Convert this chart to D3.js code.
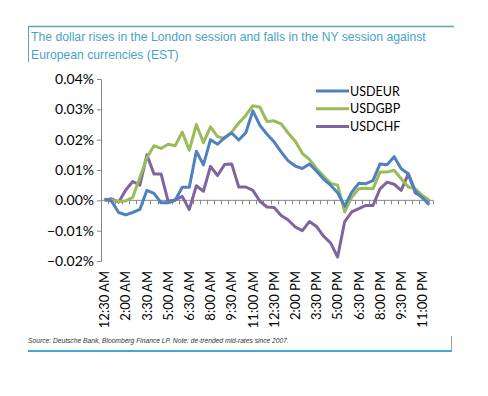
<!DOCTYPE html>
<html>
<head>
<meta charset="utf-8">
<script src="https://cdn.jsdelivr.net/npm/d3@7"></script>
<style>
    html, body { margin: 0; padding: 0; background: #fff; }
    #main { width: 488px; height: 396px; }
</style>
</head>
<body>
<div id="main"></div>
<script>
// half-hour buckets, EST
var categories = ["12:30 AM", "1:00 AM", "1:30 AM", "2:00 AM", "2:30 AM", "3:00 AM", "3:30 AM", "4:00 AM",
    "4:30 AM", "5:00 AM", "5:30 AM", "6:00 AM", "6:30 AM", "7:00 AM", "7:30 AM", "8:00 AM", "8:30 AM",
    "9:00 AM", "9:30 AM", "10:00 AM", "10:30 AM", "11:00 AM", "11:30 AM", "12:00 PM", "12:30 PM",
    "1:00 PM", "1:30 PM", "2:00 PM", "2:30 PM", "3:00 PM", "3:30 PM", "4:00 PM", "4:30 PM", "5:00 PM",
    "5:30 PM", "6:00 PM", "6:30 PM", "7:00 PM", "7:30 PM", "8:00 PM", "8:30 PM", "9:00 PM", "9:30 PM",
    "10:00 PM", "10:30 PM", "11:00 PM", "11:30 PM"];

// values in percent
var usdeur = [0.0005, -0.0003, -0.0040, -0.0048, -0.0040, -0.0030, 0.0033, 0.0023, -0.0008, -0.0008,
    0.0000, 0.0043, 0.0043, 0.0162, 0.0117, 0.0200, 0.0185, 0.0207, 0.0222, 0.0199, 0.0223, 0.0295,
    0.0247, 0.0218, 0.0193, 0.0160, 0.0130, 0.0113, 0.0105, 0.0120, 0.0097, 0.0070, 0.0050, 0.0025,
    -0.0019, 0.0027, 0.0056, 0.0055, 0.0065, 0.0120, 0.0117, 0.0144, 0.0104, 0.0088, 0.0030, 0.0008, -0.0014];
var usdgbp = [0.0000, 0.0000, -0.0004, -0.0002, 0.0010, 0.0075, 0.0140, 0.0180, 0.0171, 0.0185,
    0.0180, 0.0225, 0.0165, 0.0250, 0.0190, 0.0242, 0.0210, 0.0204, 0.0225, 0.0255, 0.0280, 0.0312,
    0.0307, 0.0260, 0.0262, 0.0252, 0.0222, 0.0195, 0.0155, 0.0135, 0.0105, 0.0080, 0.0056, 0.0050,
    -0.0038, 0.0011, 0.0038, 0.0040, 0.0038, 0.0093, 0.0093, 0.0099, 0.0071, 0.0044, 0.0038, 0.0016, 0.0000];
var usdchf = [0.0000, 0.0005, -0.0006, 0.0034, 0.0062, 0.0050, 0.0150, 0.0087, 0.0087, -0.0003,
    0.0001, 0.0013, -0.0030, 0.0048, 0.0030, 0.0112, 0.0082, 0.0118, 0.0120, 0.0044, 0.0044, 0.0033,
    -0.0003, -0.0022, -0.0024, -0.0050, -0.0065, -0.0088, -0.0100, -0.0070, -0.0086, -0.0118, -0.0140, -0.0187,
    -0.0070, -0.0038, -0.0027, -0.0017, -0.0017, 0.0038, 0.0060, 0.0053, 0.0033, 0.0087, 0.0024, 0.0011, -0.0005];

var seriesNames = ["USDEUR", "USDGBP", "USDCHF"];
var xTickLabels = ["12:30 AM", "2:00 AM", "3:30 AM", "5:00 AM", "6:30 AM", "8:00 AM", "9:30 AM", "11:00 AM",
    "12:30 PM", "2:00 PM", "3:30 PM", "5:00 PM", "6:30 PM", "8:00 PM", "9:30 PM", "11:00 PM"];
var yTicks = [-0.02, -0.01, 0.00, 0.01, 0.02, 0.03, 0.04];

var chart = (function () {
    function chart() {
        this.initProperty();
        this.init();
    }

    chart.prototype.initProperty = function () {
        this.width = 488;
        this.height = 396;
        this.svg = d3.select('#main').append('svg')
            .attr('width', this.width).attr('height', this.height);
        this.plot = {left: 101, right: 433, top: 79, bottom: 261};
        this.colors = ["#4f81bd", "#9bbb59", "#8064a2"];
        this.axisColor = "#868686";
        this.font = "Lato, 'Liberation Sans', sans-serif";
        this.xScale = d3.scaleBand().domain(categories).range([this.plot.left, this.plot.right]).padding(0);
        this.yScale = d3.scaleLinear().domain([-0.02, 0.04]).range([this.plot.bottom, this.plot.top]);
    };

    chart.prototype.init = function () {
        this.drawFrame();
        this.drawAxis();
        this.drawLines();
        this.drawLegend();
    };

    chart.prototype.drawFrame = function () {
        var svg = this.svg;
        // title box
        svg.append("line").attr("x1", 28).attr("x2", 454).attr("y1", 26.5).attr("y2", 26.5)
            .attr("stroke", "#5aa5c3").attr("stroke-width", 1.6);
        svg.append("line").attr("x1", 28.5).attr("x2", 28.5).attr("y1", 26).attr("y2", 62)
            .attr("stroke", "#5aa5c3").attr("stroke-width", 1);
        svg.append("text").attr("x", 31).attr("y", 41)
            .attr("font-family", "'Liberation Sans', Arial, sans-serif").attr("font-size", 12.2)
            .attr("fill", "#4aa2c4")
            .selectAll("tspan")
            .data(["The dollar rises in the London session and falls in the NY session against",
                "European currencies (EST)"])
            .enter().append("tspan")
            .attr("x", 31).attr("dy", function (d, i) { return i === 0 ? 0 : 17.5; })
            .text(function (d) { return d; });

        // source box
        svg.append("text").attr("x", 28).attr("y", 343)
            .attr("font-family", "'Liberation Sans', Arial, sans-serif").attr("font-size", 6.7)
            .attr("font-style", "italic").attr("fill", "#333")
            .text("Source: Deutsche Bank, Bloomberg Finance LP. Note: de-trended mid-rates since 2007.");
        svg.append("line").attr("x1", 28).attr("x2", 452).attr("y1", 351).attr("y2", 351)
            .attr("stroke", "#3fa9d6").attr("stroke-width", 2);
        svg.append("line").attr("x1", 451.5).attr("x2", 451.5).attr("y1", 336).attr("y2", 351)
            .attr("stroke", "#a0a0a0").attr("stroke-width", 1);
    };

    chart.prototype.drawAxis = function () {
        const that = this;
        var x = this.xScale, y = this.yScale;

        this.yAxis = d3.axisLeft(y)
            .tickValues(yTicks)
            .tickSize(4)
            .tickPadding(3)
            .tickFormat(function (d) { return d3.format(".2f")(d) + "%"; });

        var gy = this.svg.append("g")
            .attr("transform", "translate(" + this.plot.left + ",0)")
            .call(this.yAxis);
        gy.select(".domain").attr("stroke", this.axisColor);
        gy.selectAll(".tick line").attr("stroke", this.axisColor);
        gy.selectAll(".tick text").attr("font-family", this.font).attr("font-size", 14).attr("fill", "#000");

        // category axis crosses at zero
        var zeroY = y(0);
        this.svg.append("line")
            .attr("x1", this.plot.left).attr("x2", this.plot.right)
            .attr("y1", zeroY).attr("y2", zeroY)
            .attr("stroke", this.axisColor).attr("stroke-width", 1);

        var bounds = categories.map(function (c) { return x(c); }).concat([this.plot.right]);
        this.svg.append("g").selectAll("line").data(bounds).enter().append("line")
            .attr("x1", function (d) { return Math.round(d) + 0.5; })
            .attr("x2", function (d) { return Math.round(d) + 0.5; })
            .attr("y1", zeroY).attr("y2", zeroY + 4)
            .attr("stroke", this.axisColor).attr("stroke-width", 1);

        this.svg.append("g").selectAll("text").data(xTickLabels).enter().append("text")
            .attr("transform", function (d) {
                return "translate(" + (x(d) + x.bandwidth() / 2) + "," + (that.plot.bottom + 10) + ") rotate(-90)";
            })
            .attr("text-anchor", "end")
            .attr("dy", "0.36em")
            .attr("font-family", this.font).attr("font-size", 13)
            .attr("fill", "#000")
            .text(function (d) { return d; });
    };

    chart.prototype.drawLines = function () {
        var x = this.xScale, y = this.yScale;
        var line = d3.line()
            .x(function (d, i) { return x(categories[i]) + x.bandwidth() / 2; })
            .y(function (d) { return y(d); });

        var data = [usdeur, usdgbp, usdchf];
        // purple sits at the back, blue on top
        var order = [2, 1, 0];
        for (var k = 0; k < order.length; k++) {
            var ix = order[k];
            this.svg.append("path")
                .datum(data[ix])
                .attr("fill", "none")
                .attr("stroke", this.colors[ix])
                .attr("stroke-width", 3)
                .attr("stroke-linejoin", "round")
                .attr("d", line);
        }
    };

    chart.prototype.drawLegend = function () {
        const that = this;
        var g = this.svg.append("g").attr("transform", "translate(316,91)");
        var item = g.selectAll("g").data(seriesNames).enter().append("g")
            .attr("transform", function (d, i) { return "translate(0," + (i * 17.7) + ")"; });
        item.append("line").attr("x1", 0).attr("x2", 33).attr("y1", 0).attr("y2", 0)
            .attr("stroke", function (d, i) { return that.colors[i]; })
            .attr("stroke-width", 3);
        item.append("text").attr("x", 34).attr("dy", "0.36em")
            .attr("font-family", this.font).attr("font-size", 12.5).attr("fill", "#000")
            .text(function (d) { return d; });
    };

    return chart;
})();

new chart();
</script>
</body>
</html>
